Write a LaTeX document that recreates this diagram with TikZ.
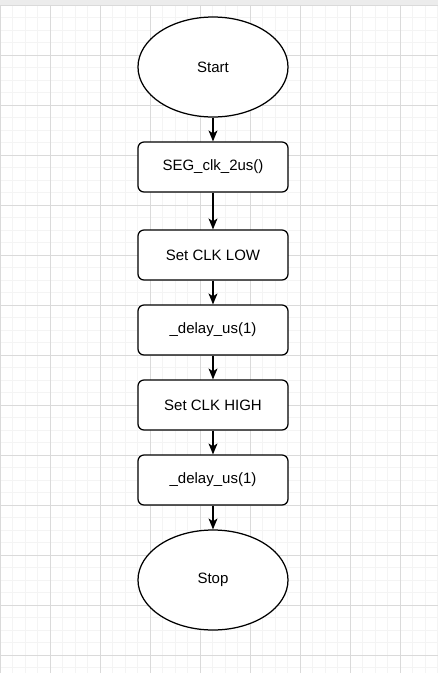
\documentclass[tikz,border=0pt]{standalone}
\usepackage{fontspec}
\setmainfont{Liberation Sans}
\usetikzlibrary{arrows.meta,shapes.geometric}
\definecolor{gridmin}{HTML}{F4F4F4}
\definecolor{gridmaj}{HTML}{DADADA}
\definecolor{topbar}{HTML}{ECECEC}

\begin{document}
\begin{tikzpicture}[x=1pt,y=-1pt,
  every node/.style={font=\fontsize{15}{18}\selectfont},
  proc/.style={draw,line width=1.25pt,rounded corners=6pt,minimum width=150pt,minimum height=50pt,inner sep=0pt,fill=white},
  term/.style={draw,ellipse,line width=1.25pt,minimum width=150pt,minimum height=100pt,inner sep=0pt,fill=white},
  flow/.style={-{Stealth[length=11pt,width=9pt,inset=3pt]},line width=1.25pt}]
  \useasboundingbox (0,0) rectangle (438,673);
  % page grid
  \fill[white] (0,5) rectangle (438,673);
  \fill[topbar] (0,0) rectangle (438,5);
  \foreach \x in {0,12.5,...,437.5} \draw[gridmin,line width=1pt] (\x,5) -- (\x,673);
  \foreach \y in {5,17.5,...,673} \draw[gridmin,line width=1pt] (0,\y) -- (438,\y);
  \foreach \x in {0,50,...,400} \draw[gridmaj,line width=1pt] (\x,5) -- (\x,673);
  \foreach \y in {5,55,...,655} \draw[gridmaj,line width=1pt] (0,\y) -- (438,\y);
  % flowchart
  \node[term] (start) at (213,67) {Start};
  \node[proc] (seg) at (213,167) {SEG\_clk\_2us()};
  \node[proc] (low) at (213,255) {Set CLK LOW};
  \node[proc] (dly1) at (213,330) {\_delay\_us(1)};
  \node[proc] (high) at (213,405) {Set CLK HIGH};
  \node[proc] (dly2) at (213,480) {\_delay\_us(1)};
  \node[term] (stop) at (213,580) {Stop};
  \draw[flow] (start) -- (seg);
  \draw[flow] (seg) -- (low);
  \draw[flow] (low) -- (dly1);
  \draw[flow] (dly1) -- (high);
  \draw[flow] (high) -- (dly2);
  \draw[flow] (dly2) -- (stop);
\end{tikzpicture}
\end{document}
